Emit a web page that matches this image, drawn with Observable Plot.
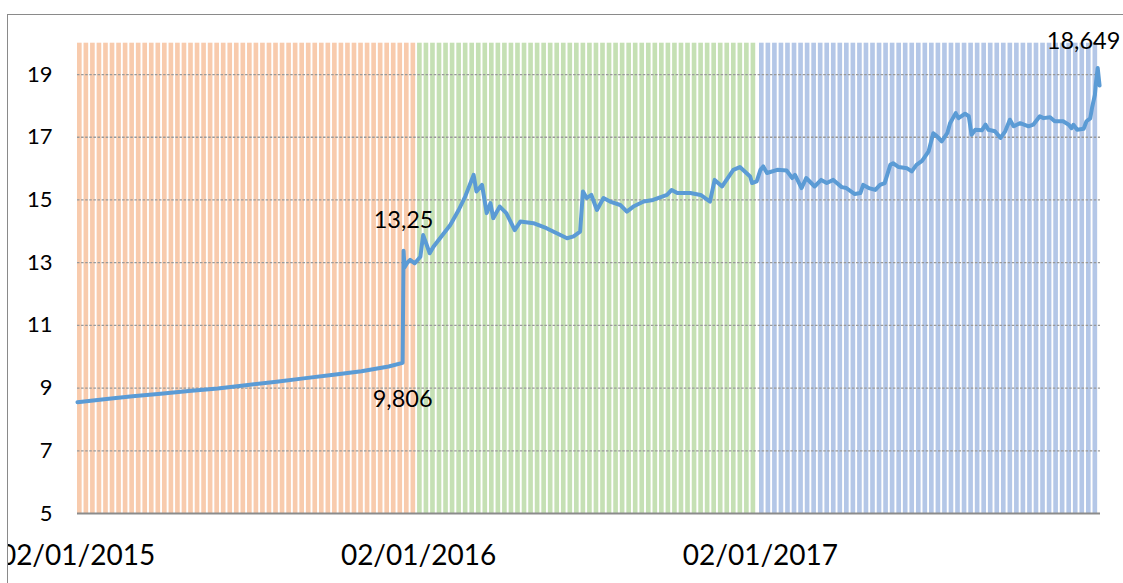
<!DOCTYPE html>
<html><head><meta charset="utf-8">
<script src="https://cdn.jsdelivr.net/npm/d3@7"></script>
<script src="https://cdn.jsdelivr.net/npm/@observablehq/plot@0.6"></script>
<style>
html,body{margin:0;padding:0;background:#fff;overflow:hidden;width:1123px;height:583px;}
#frame{position:absolute;left:7px;top:14px;width:1130px;height:600px;border-left:1.5px solid #8a8a8a;border-top:1.5px solid #8a8a8a;overflow:hidden;}
#chart{position:absolute;left:-8.5px;top:-15.5px;}
</style></head><body><div id="frame"><div id="chart"></div></div>
<script>
// Exchange rate series (date, value)
const dates = [
"2015-01-02","2015-02-02","2015-03-02","2015-04-01","2015-05-01","2015-06-01","2015-07-01","2015-08-03","2015-09-01","2015-10-01","2015-11-02","2015-12-01","2015-12-16",
"2015-12-17","2015-12-18","2015-12-21","2015-12-24","2015-12-29",
"2016-01-04","2016-01-07","2016-01-14","2016-01-18","2016-01-25","2016-02-05","2016-02-14","2016-02-21","2016-03-01","2016-03-04","2016-03-10","2016-03-15","2016-03-19","2016-03-22","2016-03-29","2016-04-05","2016-04-14","2016-04-20","2016-05-04","2016-05-18","2016-05-29","2016-06-09","2016-06-16","2016-06-23","2016-06-26","2016-06-30","2016-07-05","2016-07-11","2016-07-18","2016-07-25","2016-08-05","2016-08-12","2016-08-19","2016-08-30","2016-09-09","2016-09-24","2016-09-29","2016-10-05","2016-10-19","2016-10-30","2016-11-09","2016-11-14","2016-11-22","2016-12-04","2016-12-11","2016-12-22","2016-12-24","2016-12-29",
"2017-01-02","2017-01-05","2017-01-09","2017-01-20","2017-01-30","2017-02-05","2017-02-08","2017-02-15","2017-02-20","2017-03-01","2017-03-08","2017-03-14","2017-03-21","2017-03-30","2017-04-04","2017-04-13","2017-04-19","2017-04-22","2017-04-28","2017-05-05","2017-05-10","2017-05-15","2017-05-21","2017-05-24","2017-05-30","2017-06-08","2017-06-13","2017-06-18","2017-06-24","2017-07-01","2017-07-06","2017-07-10","2017-07-15","2017-07-21","2017-07-24","2017-07-30","2017-08-02","2017-08-09","2017-08-13","2017-08-16","2017-08-20","2017-08-27","2017-08-31","2017-09-03","2017-09-10","2017-09-16","2017-09-21","2017-09-26","2017-09-30","2017-10-07","2017-10-16","2017-10-21","2017-10-28","2017-11-01","2017-11-08","2017-11-13","2017-11-22","2017-11-28","2017-12-01","2017-12-03","2017-12-07","2017-12-14","2017-12-17","2017-12-21","2017-12-23","2017-12-26","2017-12-27","2017-12-29","2017-12-31"
];
const rates = [
8.55,8.65,8.74,8.82,8.91,8.99,9.09,9.20,9.31,9.42,9.54,9.69,9.806,
13.38,12.85,13.00,13.09,12.98,
13.19,13.88,13.30,13.51,13.78,14.20,14.68,15.11,15.80,15.27,15.48,14.58,14.90,14.42,14.79,14.58,14.04,14.31,14.26,14.10,13.94,13.78,13.84,13.99,15.27,15.06,15.16,14.68,15.06,14.95,14.84,14.63,14.79,14.95,15.00,15.16,15.32,15.22,15.22,15.16,14.95,15.64,15.43,15.96,16.05,15.75,15.54,15.59,
15.96,16.07,15.86,15.96,15.94,15.70,15.80,15.38,15.70,15.43,15.64,15.54,15.64,15.41,15.38,15.19,15.22,15.48,15.38,15.32,15.48,15.54,16.12,16.17,16.05,16.01,15.91,16.12,16.25,16.55,17.13,17.03,16.87,17.13,17.45,17.77,17.61,17.75,17.67,17.08,17.24,17.22,17.40,17.24,17.19,16.98,17.19,17.56,17.35,17.45,17.35,17.40,17.67,17.61,17.64,17.51,17.51,17.40,17.29,17.40,17.24,17.27,17.51,17.60,17.95,18.35,18.70,19.21,18.649
];
// Background bands by year
const bandStarts = ["2015-01-02","2016-01-01","2017-01-01"];
const bandEnds   = ["2016-01-01","2017-01-01","2018-01-01"];
const bandColors = ["#F8CBAD","#C5E0B4","#B4C7E7"];
// Axes
const xTickDates = ["2015-01-02","2016-01-02","2017-01-02"];
const yTicks = [5,7,9,11,13,15,17,19];
const yGrid = [7,9,11,13,15,17,19];
// Data labels
const labelDates = ["2015-12-16","2015-12-17","2017-12-31"];
const labelValues = [9.806,13.25,18.649];
const labelTexts = ["9,806","13,25","18,649"];
const labelDx = [0,0,-16];
const labelDy = [37,-34,-44];

const parse = d3.utcParse("%Y-%m-%d");
const data = dates.map((d,i)=>({date:parse(d), rate:rates[i]}));
const stripes = [];
bandStarts.forEach((s,i)=>{
  const a = parse(s), b = parse(bandEnds[i]);
  d3.utcDay.range(a,b,7).forEach(d=>{
    let e = d3.utcDay.offset(d,7); if (e > b) e = b;
    stripes.push({x1:d, x2:e, color:bandColors[i]});
  });
});
const labels = labelTexts.map((t,i)=>({date:parse(labelDates[i]), value:labelValues[i], text:t, dx:labelDx[i], dy:labelDy[i]}));
const fmt = d3.utcFormat("%d/%m/%Y");

const chart = Plot.plot({
  width:1123, height:583,
  marginLeft:77, marginRight:23, marginTop:42.7, marginBottom:70,
  x:{type:"utc", domain:[parse("2015-01-02"), parse("2018-01-01")], label:null},
  y:{domain:[5,20], label:null},
  color:{type:"identity"},
  style:{fontFamily:"Lato, 'Open Sans', sans-serif", background:"transparent", overflow:"visible", color:"#000"},
  marks:[
    Plot.rect(stripes,{x1:"x1", x2:"x2", y1:5, y2:20, fill:"color", insetRight:1.9}),
    Plot.ruleY(yGrid,{stroke:"#999", strokeWidth:1.3, strokeDasharray:"2.5,1.6"}),
    Plot.ruleY([5],{stroke:"#8c8c8c", strokeWidth:2}),
    Plot.line(data,{x:"date", y:"rate", stroke:"#5B9BD5", strokeWidth:4, strokeLinejoin:"round"}),
    Plot.axisY(yTicks,{tickSize:0, tickPadding:25, fontSize:22, label:null}),
    Plot.axisX(xTickDates.map(parse),{tickSize:0, tickPadding:32, fontSize:28, tickFormat:fmt, label:null}),
    ...labels.map(l=>Plot.text([l],{x:"date", y:"value", text:"text", dx:l.dx, dy:l.dy, fontSize:23.5, fill:"#000"}))
  ]
});
document.getElementById("chart").appendChild(chart);
</script></body></html>
